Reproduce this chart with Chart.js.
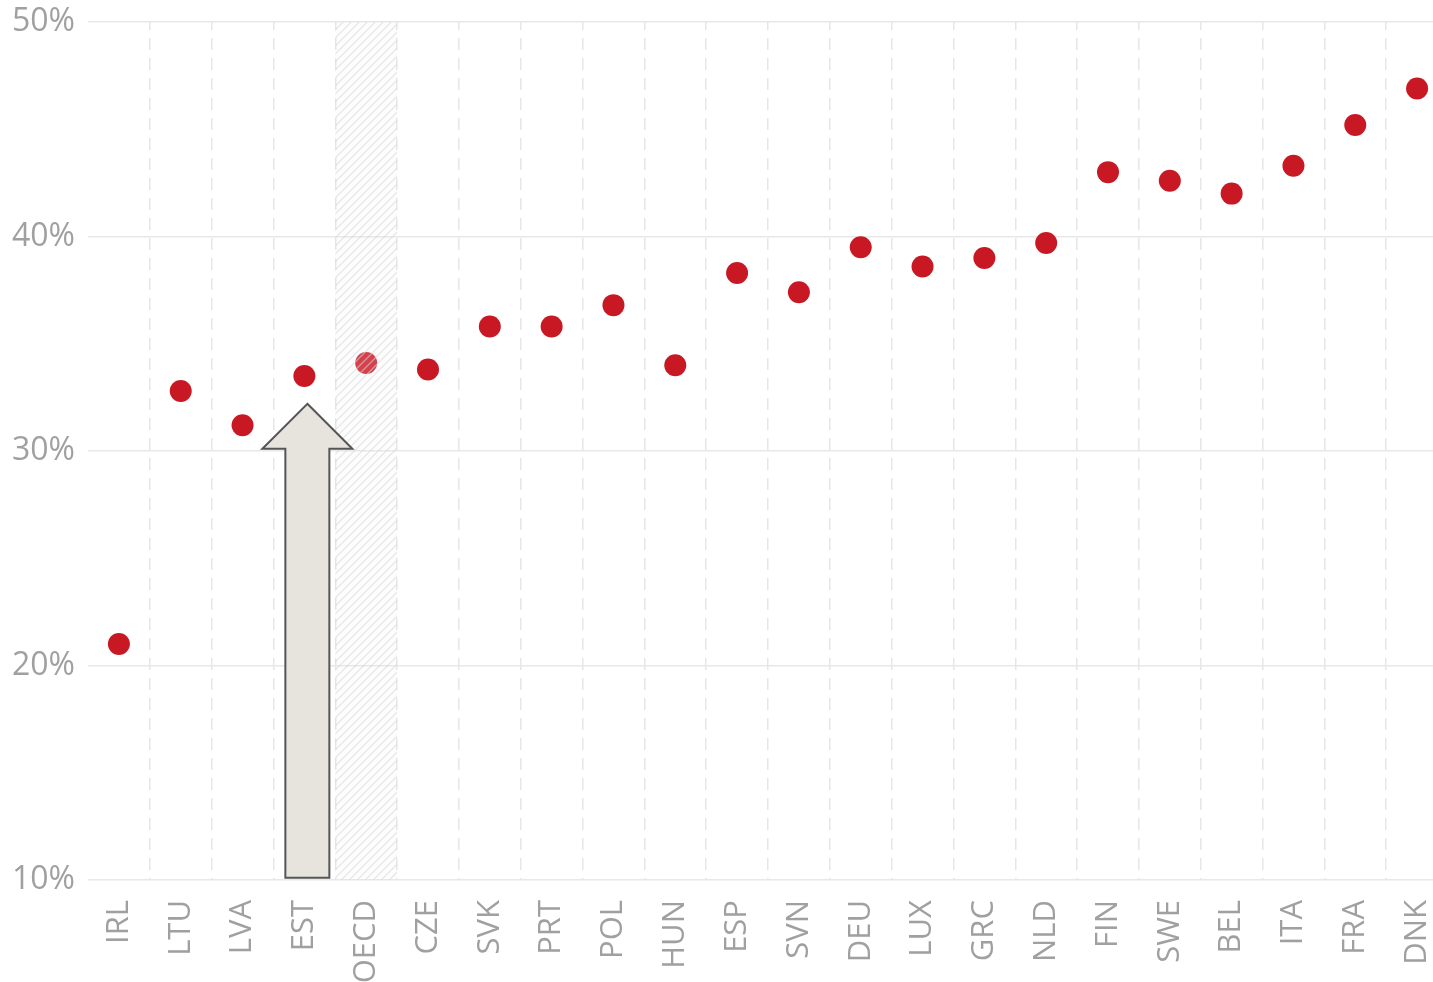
<!DOCTYPE html>
<html>
<head>
<meta charset="utf-8">
<script src="https://cdn.jsdelivr.net/npm/chart.js@4/dist/chart.umd.min.js"></script>
<style>
html,body{margin:0;padding:0;background:#fff;overflow:hidden;}
#wrap{width:1433px;height:982px;overflow:hidden;}
</style>
</head>
<body>
<div id="wrap"><canvas id="c" width="1459" height="982"></canvas></div>
<script>
const categories = ['IRL','LTU','LVA','EST','OECD','CZE','SVK','PRT','POL','HUN','ESP','SVN','DEU','LUX','GRC','NLD','FIN','SWE','BEL','ITA','FRA','DNK'];
const values = [21.0,32.8,31.2,33.5,34.1,33.8,35.8,35.8,36.8,34.0,38.3,37.4,39.5,38.6,39.0,39.7,43.0,42.6,42.0,43.3,45.2,46.9];
const yTicks = [10,20,30,40,50];
const highlightCategory = 'OECD';
const arrowCategory = 'EST';
const arrowTip = 32.2;
const arrowHeadBase = 30.1;
const arrowBase = 10.1;

const RED = 'rgb(200,24,36)';
const pointColors = categories.map(c => c === highlightCategory ? 'rgba(204,30,42,0.95)' : RED);

const hatchPlugin = {
  id: 'hatch',
  afterDatasetsDraw(chart) {
    const {ctx, chartArea, scales} = chart;
    const x = scales.x;
    const i = categories.indexOf(highlightCategory);
    const half = (x.getPixelForValue(1) - x.getPixelForValue(0)) / 2;
    const cx = x.getPixelForValue(i);
    const l = cx - half, r = cx + half, t = chartArea.top, b = chartArea.bottom;
    ctx.save();
    ctx.beginPath(); ctx.rect(l, t, r - l, b - t); ctx.clip();
    ctx.fillStyle = 'rgba(235,235,235,0.12)';
    ctx.fillRect(l, t, r - l, b - t);
    ctx.strokeStyle = 'rgba(215,215,215,0.55)';
    ctx.lineWidth = 1.3;
    for (let k = l - (b - t); k < r + 10; k += 8) {
      ctx.beginPath(); ctx.moveTo(k, b); ctx.lineTo(k + (b - t), t); ctx.stroke();
    }
    ctx.restore();
  }
};

const arrowPlugin = {
  id: 'arrow',
  afterDraw(chart) {
    const {ctx, scales} = chart;
    const cx = scales.x.getPixelForValue(categories.indexOf(arrowCategory)) + 3;
    const tip = scales.y.getPixelForValue(arrowTip);
    const hb = scales.y.getPixelForValue(arrowHeadBase);
    const base = scales.y.getPixelForValue(arrowBase);
    const hw = 45, sw = 22;
    ctx.save();
    ctx.beginPath();
    ctx.moveTo(cx, tip);
    ctx.lineTo(cx + hw, hb);
    ctx.lineTo(cx + sw, hb);
    ctx.lineTo(cx + sw, base);
    ctx.lineTo(cx - sw, base);
    ctx.lineTo(cx - sw, hb);
    ctx.lineTo(cx - hw, hb);
    ctx.closePath();
    ctx.fillStyle = '#e7e4de';
    ctx.fill();
    ctx.lineWidth = 2;
    ctx.strokeStyle = '#555';
    ctx.lineJoin = 'miter';
    ctx.stroke();
    ctx.restore();
  }
};

new Chart(document.getElementById('c'), {
  type: 'scatter',
  data: {
    labels: categories,
    datasets: [{
      data: values.map((v, i) => ({x: categories[i], y: v})),
      pointRadius: 11,
      pointHoverRadius: 11,
      pointBackgroundColor: pointColors,
      pointBorderWidth: 0,
      showLine: false
    }]
  },
  options: {
    responsive: false,
    animation: false,
    layout: {padding: {top: 22, right: 4, left: 0, bottom: 0}},
    plugins: {legend: {display: false}, tooltip: {enabled: false}},
    scales: {
      x: {
        type: 'category',
        labels: categories,
        offset: true,
        grid: {
          offset: true,
          color: (c) => (c.index === 0 ? 'rgba(0,0,0,0)' : '#e6e6e6'),
          lineWidth: 1.5,
          drawTicks: false
        },
        border: {display: false, dash: [12, 8], dashOffset: 4},
        ticks: {
          autoSkip: false,
          minRotation: 90,
          maxRotation: 90,
          padding: 20,
          color: '#a0a0a0',
          font: {family: 'Open Sans', size: 31}
        },
        afterFit(s) { s.height = 102; s.paddingLeft = 0; s.paddingRight = 0; }
      },
      y: {
        type: 'linear',
        min: 10,
        max: 50,
        afterBuildTicks(s) { s.ticks = yTicks.map(v => ({value: v})); },
        grid: {color: '#e8e8e8', lineWidth: 1.5, drawTicks: false},
        border: {display: false},
        ticks: {
          padding: 13,
          color: '#a0a0a0',
          font: {family: 'Open Sans', size: 32},
          callback: (v) => v + '%'
        },
        afterFit(s) { s.width = 88; s.paddingTop = 0; s.paddingBottom = 0; }
      }
    }
  },
  plugins: [hatchPlugin, arrowPlugin]
});
</script>
</body>
</html>
